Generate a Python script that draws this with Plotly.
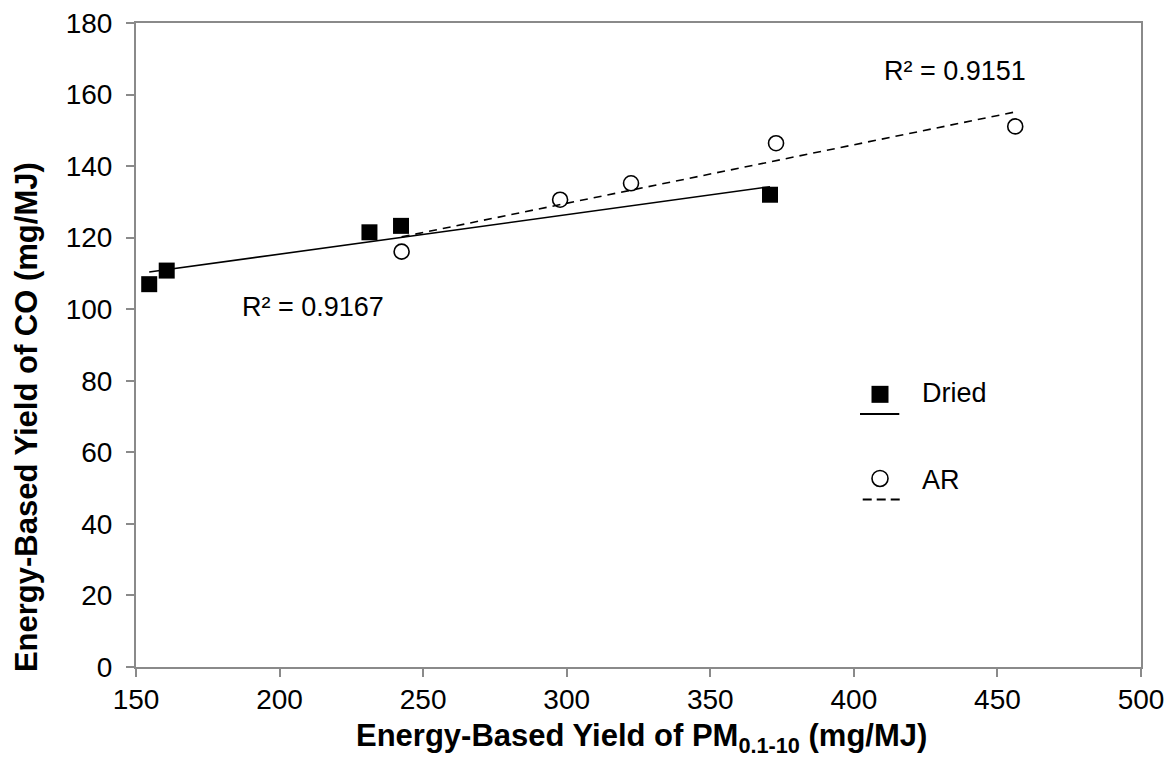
import numpy as np
import plotly.graph_objects as go

# ---- data ----
dried_x = [154.6, 160.7, 231.3, 242.3, 370.8]
dried_y = [107.0, 110.8, 121.5, 123.3, 132.0]
ar_x = [242.5, 297.7, 322.4, 372.9, 456.2]
ar_y = [116.1, 130.6, 135.2, 146.4, 151.1]
x_ticks = [150, 200, 250, 300, 350, 400, 450, 500]
y_ticks = [0, 20, 40, 60, 80, 100, 120, 140, 160, 180]
r2_dried = "R² = 0.9167"
r2_ar = "R² = 0.9151"

FONT = "Liberation Sans, Arial, sans-serif"
GREY = "#8a8a8a"


def fit_line(xs, ys):
    m, b = np.polyfit(xs, ys, 1)
    xx = np.array([min(xs), max(xs)])
    return xx, m * xx + b


fig = go.Figure()

dx, dy = fit_line(dried_x, dried_y)
ax_, ay_ = fit_line(ar_x, ar_y)

fig.add_trace(go.Scatter(x=dx, y=dy, mode="lines",
                         line=dict(color="black", width=1.6), showlegend=False))
fig.add_trace(go.Scatter(x=dried_x, y=dried_y, mode="markers",
                         marker=dict(symbol="square", size=16, color="black"),
                         showlegend=False, cliponaxis=False))
fig.add_trace(go.Scatter(x=ar_x, y=ar_y, mode="markers",
                         marker=dict(symbol="circle", size=15, color="white",
                                     line=dict(color="black", width=1.6)),
                         showlegend=False, cliponaxis=False))
fig.add_trace(go.Scatter(x=ax_, y=ay_, mode="lines",
                         line=dict(color="black", width=1.6, dash="8px,6px"),
                         showlegend=False))

axis_common = dict(
    showgrid=False, zeroline=False, showline=True, linecolor=GREY, linewidth=2,
    mirror=True, ticks="outside", ticklen=8, tickwidth=2, tickcolor=GREY,
    tickfont=dict(family=FONT, size=28, color="black"),
    ticklabeloverflow="allow", automargin=False,
)

fig.update_xaxes(range=[150, 500], tickvals=x_ticks, ticktext=[str(v) for v in x_ticks],
                 ticklabelstandoff=-2, **axis_common)
fig.update_yaxes(range=[0, 180], tickvals=y_ticks, ticktext=[str(v) for v in y_ticks],
                 ticklabelstandoff=8, **axis_common)

annotations = [
    dict(x=435.3, y=166.5, xref="x", yref="y", text=r2_ar, showarrow=False,
         xanchor="center", yanchor="middle",
         font=dict(family=FONT, size=27, color="black")),
    dict(x=211.8, y=100.7, xref="x", yref="y", text=r2_dried, showarrow=False,
         xanchor="center", yanchor="middle",
         font=dict(family=FONT, size=27, color="black")),
    dict(x=0.5025, y=-0.1108, xref="paper", yref="paper",
         xanchor="center", yanchor="middle",
         text="<b>Energy-Based Yield of PM<sub>0.1-10</sub> (mg/MJ)</b>",
         showarrow=False, font=dict(family=FONT, size=31, color="black")),
    dict(x=-0.1095, y=0.388, xref="paper", yref="paper", textangle=-90,
         xanchor="center", yanchor="middle",
         text="<b>Energy-Based Yield of CO (mg/MJ)</b>",
         showarrow=False, font=dict(family=FONT, size=31, color="black")),
    dict(x=0.7801, y=0.4254, xref="paper", yref="paper", xanchor="left", yanchor="middle",
         text="Dried", showarrow=False, font=dict(family=FONT, size=27, color="black")),
    dict(x=0.7801, y=0.2902, xref="paper", yref="paper", xanchor="left", yanchor="middle",
         text="AR", showarrow=False, font=dict(family=FONT, size=27, color="black")),
]

shapes = [
    dict(type="rect", xref="paper", yref="paper", xsizemode="pixel", ysizemode="pixel",
         xanchor=0.7403, yanchor=0.4234, x0=-8.5, x1=8.5, y0=-8.5, y1=8.5,
         fillcolor="black", line=dict(width=0)),
    dict(type="line", xref="paper", yref="paper", x0=0.7204, x1=0.7595,
         y0=0.3928, y1=0.3928, line=dict(color="black", width=2)),
    dict(type="circle", xref="paper", yref="paper", xsizemode="pixel", ysizemode="pixel",
         xanchor=0.7403, yanchor=0.2928, x0=-8, x1=8, y0=-8, y1=8,
         fillcolor="white", line=dict(color="black", width=1.6)),
    dict(type="line", xref="paper", yref="paper", x0=0.7231, x1=0.7602,
         y0=0.2602, y1=0.2602, line=dict(color="black", width=2, dash="9px,5px")),
]

# the page body has an 8px default margin; compensate so the plot area
# lands at the same pixel positions as the reference
fig.update_layout(
    width=1167, height=758,
    margin=dict(l=128, r=34, t=15, b=99),
    paper_bgcolor="white", plot_bgcolor="white",
    annotations=annotations, shapes=shapes,
    font=dict(family=FONT, color="black"),
)

fig.write_html("out.html")
